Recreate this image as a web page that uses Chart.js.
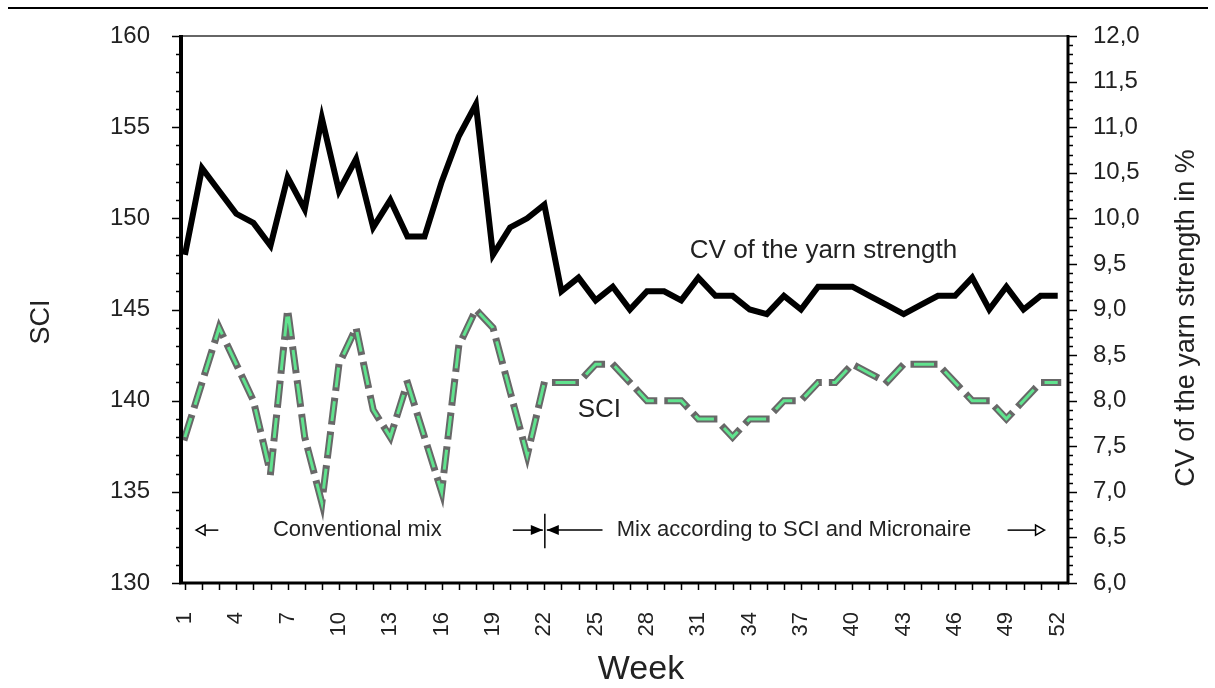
<!DOCTYPE html>
<html><head><meta charset="utf-8">
<script src="https://cdn.jsdelivr.net/npm/chart.js@4.4.1/dist/chart.umd.min.js"></script>
<style>html,body{margin:0;padding:0;background:#fff;}#wrap{width:1215px;height:688px;}</style>
</head><body><div id="wrap"><canvas id="c" width="1215" height="688"></canvas></div>
<script>
const weeks = Array.from({length: 52}, (_, i) => i + 1);
const sciValues = [138,141,144,142,140,136,145,138,134.4,142,144,139.5,138,141,138,135,143,145,144,140.5,137,141,141,141,142,142,141,140,140,140,139,139,138,139,139,140,140,141,141,142,141.5,141,142,142,142,141,140,140,139,140,141,141];
const cvValues = [9.6,10.55,10.3,10.05,9.95,9.7,10.45,10.1,11.1,10.3,10.65,9.9,10.2,9.8,9.8,10.4,10.9,11.25,9.6,9.9,10.0,10.15,9.2,9.35,9.1,9.25,9.0,9.2,9.2,9.1,9.35,9.15,9.15,9.0,8.95,9.15,9.0,9.25,9.25,9.25,9.15,9.05,8.95,9.05,9.15,9.15,9.35,9.0,9.25,9.0,9.15,9.15];
const xTickLabels = [1,4,7,10,13,16,19,22,25,28,31,34,37,40,43,46,49,52];
const leftTicks = [130,135,140,145,150,155,160];
const rightTicks = [6,6.5,7,7.5,8,8.5,9,9.5,10,10.5,11,11.5,12];

const FONT = '"Liberation Sans", Arial, sans-serif';
const TXT = '#222';
Chart.defaults.font.family = FONT;

const sciPts = weeks.map((w, i) => ({x: w, y: sciValues[i]}));
const cvPts = weeks.map((w, i) => ({x: w, y: cvValues[i]}));

function arrowHead(ctx, tipX, y, dir, len, half, filled) {
  ctx.beginPath();
  ctx.moveTo(tipX, y);
  ctx.lineTo(tipX - dir * len, y - half);
  ctx.lineTo(tipX - dir * len, y + half);
  ctx.closePath();
  if (filled) { ctx.fill(); } else { ctx.fillStyle = '#fff'; ctx.fill(); ctx.stroke(); ctx.fillStyle = TXT; }
}

const framePlugin = {
  id: 'frame',
  afterDraw(chart) {
    const {ctx, chartArea: ca, scales} = chart;
    const xs = scales.x, ys = scales.y, ys2 = scales.y2;
    ctx.save();
    ctx.fillStyle = '#000';
    ctx.fillRect(8, 7, 1200, 2);
    ctx.strokeStyle = '#333';
    ctx.lineWidth = 1.5;
    ctx.beginPath(); ctx.moveTo(ca.left, ca.top); ctx.lineTo(ca.right, ca.top); ctx.stroke();
    ctx.strokeStyle = '#000';
    ctx.lineWidth = 4;
    ctx.beginPath(); ctx.moveTo(ca.left, ca.top - 1); ctx.lineTo(ca.left, ca.bottom + 1); ctx.stroke();
    ctx.lineWidth = 3;
    ctx.beginPath(); ctx.moveTo(ca.right, ca.top - 1); ctx.lineTo(ca.right, ca.bottom + 1); ctx.stroke();
    ctx.beginPath(); ctx.moveTo(ca.left - 2, ca.bottom); ctx.lineTo(ca.right + 1, ca.bottom); ctx.stroke();
    ctx.lineWidth = 1.5;
    ctx.beginPath();
    for (let v = 130; v <= 160; v++) {
      const py = Math.round(ys.getPixelForValue(v)) + 0.5;
      const len = v % 5 === 0 ? 9 : 5;
      ctx.moveTo(ca.left - len, py); ctx.lineTo(ca.left, py);
    }
    for (let t = 60; t <= 120; t++) {
      const py = Math.round(ys2.getPixelForValue(t / 10)) + 0.5;
      const len = t % 5 === 0 ? 9 : 5;
      ctx.moveTo(ca.right, py); ctx.lineTo(ca.right + len, py);
    }
    weeks.forEach(w => {
      const px = Math.round(xs.getPixelForValue(w)) + 0.5;
      ctx.moveTo(px, ca.bottom); ctx.lineTo(px, ca.bottom + 7);
    });
    ctx.stroke();

    ctx.fillStyle = TXT;
    ctx.textBaseline = 'middle';
    ctx.textAlign = 'left';
    ctx.font = '26px ' + FONT;
    ctx.fillText('CV of the yarn strength', xs.getPixelForValue(30.5), ys.getPixelForValue(148.2));
    ctx.fillText('SCI', xs.getPixelForValue(23.95), ys.getPixelForValue(139.5));

    const ay = ys.getPixelForValue(132.9);
    ctx.font = '22px ' + FONT;
    ctx.fillText('Conventional mix', xs.getPixelForValue(6.14), ay);
    ctx.fillText('Mix according to SCI and Micronaire', xs.getPixelForValue(26.23), ay);
    ctx.strokeStyle = '#000';
    ctx.lineWidth = 1.5;
    const la = xs.getPixelForValue(1.65), lb = xs.getPixelForValue(2.95);
    ctx.beginPath(); ctx.moveTo(la + 9, ay); ctx.lineTo(lb, ay); ctx.stroke();
    arrowHead(ctx, la, ay, -1, 9, 5, false);
    const ra = xs.getPixelForValue(49.07), rb = xs.getPixelForValue(51.23);
    ctx.beginPath(); ctx.moveTo(ra, ay); ctx.lineTo(rb - 9, ay); ctx.stroke();
    arrowHead(ctx, rb, ay, 1, 9, 5, false);
    const sx = xs.getPixelForValue(22.03);
    ctx.beginPath(); ctx.moveTo(sx, ys.getPixelForValue(133.8)); ctx.lineTo(sx, ys.getPixelForValue(131.9)); ctx.stroke();
    ctx.beginPath(); ctx.moveTo(xs.getPixelForValue(20.16), ay); ctx.lineTo(sx - 2, ay); ctx.stroke();
    ctx.beginPath(); ctx.moveTo(sx + 2, ay); ctx.lineTo(xs.getPixelForValue(25.4), ay); ctx.stroke();
    ctx.fillStyle = '#000';
    arrowHead(ctx, sx - 2, ay, 1, 12, 5, true);
    arrowHead(ctx, sx + 2, ay, -1, 12, 5, true);

    ctx.fillStyle = TXT;
    ctx.textAlign = 'center';
    ctx.font = '27px ' + FONT;
    ctx.save(); ctx.translate(42, 322); ctx.rotate(-Math.PI / 2); ctx.fillText('SCI', 0, 0); ctx.restore();
    ctx.save(); ctx.translate(1187, 318); ctx.rotate(-Math.PI / 2); ctx.fillText('CV of the yarn strength in %', 0, 0); ctx.restore();
    ctx.font = '34px ' + FONT;
    ctx.fillText('Week', 641, 670);
    ctx.restore();
  }
};

function fixV(width) {
  return s => { s.width = width; s.paddingTop = 0; s.paddingBottom = 0; };
}

new Chart(document.getElementById('c'), {
  type: 'line',
  data: {
    datasets: [
      {label: 'SCI outline', order: 2, data: sciPts, yAxisID: 'y', borderColor: '#686868', borderWidth: 7, borderDash: [20, 14], borderCapStyle: 'square', pointRadius: 0, tension: 0, fill: false},
      {label: 'SCI', order: 1, data: sciPts, yAxisID: 'y', borderColor: '#60e38e', borderWidth: 3, borderDash: [20, 14], borderCapStyle: 'butt', pointRadius: 0, tension: 0, fill: false},
      {label: 'CV of the yarn strength', order: 0, data: cvPts, yAxisID: 'y2', borderColor: '#000', borderWidth: 6, pointRadius: 0, tension: 0, fill: false, borderJoinStyle: 'miter'}
    ]
  },
  options: {
    responsive: false,
    animation: false,
    devicePixelRatio: 1,
    layout: {padding: {top: 36, left: 0, right: 0, bottom: 0}},
    plugins: {legend: {display: false}, tooltip: {enabled: false}},
    scales: {
      x: {
        type: 'linear', min: 0.77, max: 52.6,
        grid: {display: false, drawTicks: false}, border: {display: false},
        afterBuildTicks: s => { s.ticks = weeks.map(v => ({value: v})); },
        ticks: {autoSkip: false, maxRotation: 90, minRotation: 90, padding: 29, color: TXT, font: {size: 22},
          callback: v => xTickLabels.includes(v) ? String(v) : ''},
        afterFit: s => { s.height = 105; s.paddingLeft = 0; s.paddingRight = 0; }
      },
      y: {
        position: 'left', min: 130, max: 160,
        grid: {display: false, drawTicks: false}, border: {display: false},
        afterBuildTicks: s => { s.ticks = leftTicks.map(v => ({value: v})); },
        ticks: {padding: 31, color: TXT, font: {size: 24}},
        afterFit: fixV(181)
      },
      y2: {
        position: 'right', min: 6, max: 12,
        grid: {display: false, drawTicks: false}, border: {display: false},
        afterBuildTicks: s => { s.ticks = rightTicks.map(v => ({value: v})); },
        ticks: {padding: 25, color: TXT, font: {size: 24}, callback: v => Number(v).toFixed(1).replace('.', ',')},
        afterFit: fixV(147)
      }
    }
  },
  plugins: [framePlugin]
});
</script></body></html>
